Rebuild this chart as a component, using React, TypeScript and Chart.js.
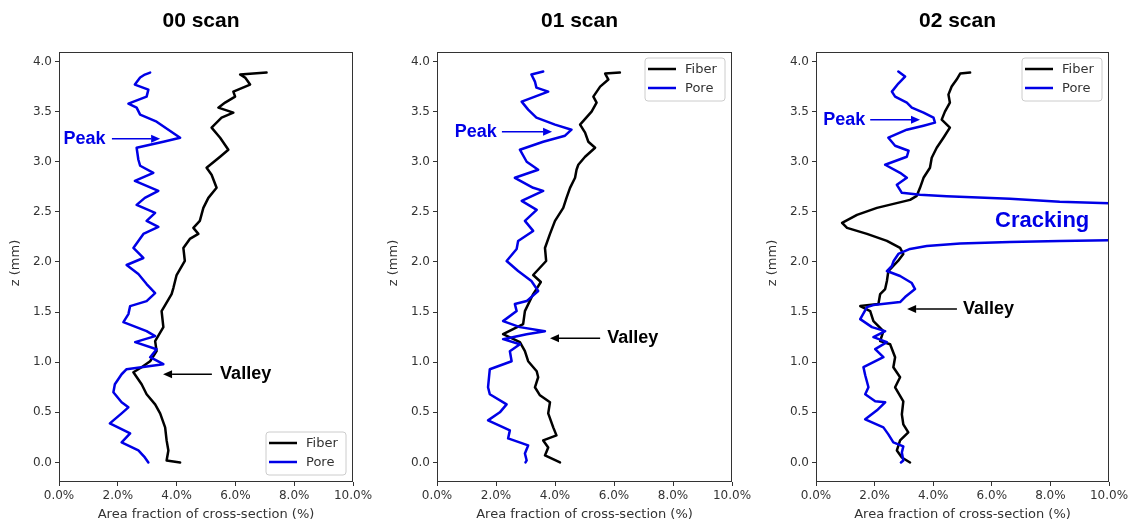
import React, { useEffect, useRef } from "react";
import { Chart, registerables } from "chart.js";
Chart.register(...registerables);

// ---------- data ----------
const xTicks = [0, 2, 4, 6, 8, 10];
const yTicks = [0, 0.5, 1, 1.5, 2, 2.5, 3, 3.5, 4];
const panelTitles = ["00 scan", "01 scan", "02 scan"];
const seriesNames = ["Fiber", "Pore"];
const xAxisTitle = "Area fraction of cross-section (%)";
const yAxisTitle = "z (mm)";

// 00 scan
const scan00FiberZ = [3.89, 3.87, 3.84, 3.77, 3.7, 3.65, 3.59, 3.54, 3.49, 3.44, 3.34, 3.24, 3.12, 3.05, 2.94, 2.87, 2.74, 2.64, 2.54, 2.41, 2.34, 2.28, 2.23, 2.14, 2.01, 1.87, 1.74, 1.68, 1.51, 1.35, 1.21, 1.11, 1.01, 0.95, 0.9, 0.78, 0.68, 0.58, 0.49, 0.35, 0.22, 0.12, 0.02, 0.0];
const scan00FiberPct = [7.06, 6.16, 6.33, 6.5, 5.93, 5.99, 5.65, 5.42, 5.93, 5.53, 5.19, 5.48, 5.76, 5.48, 5.02, 5.19, 5.36, 5.08, 4.91, 4.79, 4.57, 4.74, 4.45, 4.23, 4.28, 4.0, 3.89, 3.83, 3.49, 3.55, 3.27, 3.32, 3.1, 2.81, 2.53, 2.81, 2.98, 3.27, 3.44, 3.61, 3.66, 3.72, 3.66, 4.12];
const scan00PoreZ = [3.89, 3.87, 3.84, 3.77, 3.72, 3.65, 3.58, 3.54, 3.47, 3.4, 3.32, 3.24, 3.2, 3.14, 3.02, 2.96, 2.89, 2.81, 2.71, 2.64, 2.57, 2.49, 2.41, 2.35, 2.28, 2.14, 2.04, 1.97, 1.88, 1.78, 1.69, 1.61, 1.56, 1.48, 1.4, 1.31, 1.26, 1.2, 1.13, 1.05, 0.98, 0.93, 0.88, 0.78, 0.7, 0.6, 0.55, 0.49, 0.39, 0.29, 0.2, 0.12, 0.05, 0.0];
const scan00PorePct = [3.1, 2.92, 2.76, 2.58, 3.04, 2.98, 2.36, 2.64, 2.76, 3.32, 3.72, 4.12, 3.55, 2.64, 2.7, 2.76, 3.21, 2.58, 3.38, 2.92, 2.64, 3.27, 2.98, 3.38, 2.87, 2.53, 2.87, 2.3, 2.7, 2.98, 3.27, 2.98, 2.42, 2.36, 2.19, 2.98, 3.27, 2.59, 3.32, 3.1, 3.55, 2.3, 2.13, 1.9, 1.85, 2.13, 2.36, 2.13, 1.73, 2.42, 2.13, 2.7, 2.92, 3.04];

// 01 scan
const scan01FiberZ = [3.89, 3.88, 3.82, 3.75, 3.65, 3.59, 3.5, 3.37, 3.29, 3.2, 3.14, 3.05, 2.97, 2.92, 2.84, 2.74, 2.64, 2.54, 2.41, 2.28, 2.14, 2.01, 1.87, 1.8, 1.73, 1.68, 1.51, 1.38, 1.28, 1.2, 1.11, 1.01, 0.91, 0.85, 0.75, 0.67, 0.6, 0.49, 0.35, 0.27, 0.22, 0.15, 0.07, 0.0];
const scan01FiberPct = [6.2, 5.7, 5.81, 5.53, 5.3, 5.41, 5.24, 4.85, 5.02, 5.13, 5.36, 5.02, 4.79, 4.73, 4.68, 4.51, 4.39, 4.28, 4.0, 3.83, 3.66, 3.7, 3.26, 3.52, 3.37, 3.26, 2.98, 2.92, 2.24, 2.81, 2.98, 3.09, 3.38, 3.43, 3.32, 3.49, 3.83, 3.77, 3.94, 4.05, 3.6, 3.77, 3.66, 4.17];
const scan01PoreZ = [3.9, 3.87, 3.8, 3.74, 3.7, 3.65, 3.6, 3.52, 3.44, 3.37, 3.32, 3.26, 3.2, 3.12, 3.0, 2.92, 2.84, 2.74, 2.71, 2.61, 2.52, 2.41, 2.31, 2.21, 2.13, 2.01, 1.91, 1.81, 1.71, 1.61, 1.58, 1.51, 1.41, 1.35, 1.31, 1.28, 1.23, 1.18, 1.11, 1.01, 0.93, 0.75, 0.68, 0.58, 0.5, 0.42, 0.32, 0.24, 0.17, 0.09, 0.02, 0.0];
const scan01PorePct = [3.6, 3.2, 3.32, 3.37, 3.77, 3.32, 2.87, 3.09, 3.37, 4.0, 4.56, 4.34, 3.6, 2.81, 3.04, 3.43, 2.64, 3.26, 3.6, 2.87, 3.38, 2.98, 3.26, 2.75, 2.7, 2.36, 2.75, 3.2, 3.43, 3.04, 2.64, 2.7, 2.24, 2.81, 3.66, 3.04, 2.24, 2.81, 2.47, 2.53, 1.79, 1.73, 1.79, 2.36, 2.13, 1.73, 2.47, 2.41, 3.09, 2.98, 3.04, 3.0];

// 02 scan
const scan02FiberZ = [3.89, 3.88, 3.82, 3.75, 3.67, 3.59, 3.5, 3.42, 3.34, 3.24, 3.14, 3.04, 2.94, 2.84, 2.74, 2.66, 2.62, 2.54, 2.47, 2.39, 2.34, 2.28, 2.21, 2.14, 2.08, 2.01, 1.91, 1.81, 1.73, 1.68, 1.58, 1.56, 1.51, 1.41, 1.31, 1.21, 1.18, 1.05, 0.95, 0.85, 0.75, 0.61, 0.48, 0.38, 0.3, 0.22, 0.12, 0.05, 0.0];
const scan02FiberPct = [5.26, 4.92, 4.8, 4.63, 4.52, 4.57, 4.4, 4.29, 4.57, 4.35, 4.12, 3.95, 3.89, 3.67, 3.55, 3.44, 3.21, 2.08, 1.4, 0.89, 1.06, 1.74, 2.42, 2.87, 2.98, 2.8, 2.47, 2.42, 2.36, 2.19, 2.13, 1.51, 1.85, 1.96, 2.3, 2.19, 2.53, 2.7, 2.64, 2.87, 2.7, 2.98, 2.93, 2.98, 3.15, 2.87, 2.76, 2.93, 3.21];
const scan02PoreZ = [3.9, 3.85, 3.78, 3.7, 3.65, 3.59, 3.54, 3.49, 3.44, 3.39, 3.36, 3.32, 3.24, 3.16, 3.11, 3.05, 2.97, 2.89, 2.84, 2.77, 2.69, 2.67, 2.655, 2.63, 2.6, 2.55, 2.4, 2.23, 2.21, 2.2, 2.185, 2.16, 2.13, 2.08, 2.01, 1.96, 1.91, 1.86, 1.79, 1.73, 1.65, 1.6, 1.57, 1.55, 1.43, 1.35, 1.31, 1.25, 1.2, 1.13, 1.05, 0.95, 0.87, 0.75, 0.68, 0.61, 0.6, 0.52, 0.43, 0.35, 0.28, 0.2, 0.16, 0.1, 0.02, 0.0];
const scan02PorePct = [2.81, 3.04, 2.81, 2.59, 2.7, 3.1, 3.27, 3.67, 4.01, 4.06, 3.67, 3.1, 2.47, 2.7, 3.16, 3.1, 2.36, 2.87, 3.1, 2.76, 2.93, 3.55, 4.46, 6.62, 8.32, 14, 40, 14, 8.32, 6.62, 4.92, 3.78, 3.21, 2.81, 2.65, 2.59, 2.42, 2.87, 3.27, 3.38, 3.04, 2.87, 1.96, 1.74, 1.51, 1.91, 2.36, 1.96, 2.42, 2.02, 2.3, 1.62, 1.68, 1.79, 1.68, 2.02, 2.36, 2.08, 1.68, 2.3, 2.47, 2.64, 2.98, 2.93, 2.98, 2.9];

// annotation texts
const peakLabel = "Peak";
const valleyLabel = "Valley";
const crackLabel = "Cracking";

const BLUE = "#0000e6";
const BLACK = "#000000";
const AXIS = "#333333";

type Ann = { kind: "text" | "arrow"; text?: string; x: number; y: number; x2?: number; align?: CanvasTextAlign; color: string; size?: number };

const panelAnnotations: Ann[][] = [
  [
    { kind: "text", text: peakLabel, x: 1.58, y: 3.23, align: "right", color: BLUE },
    { kind: "arrow", x: 1.8, x2: 3.44, y: 3.23, color: BLUE },
    { kind: "text", text: valleyLabel, x: 5.48, y: 0.88, align: "left", color: BLACK },
    { kind: "arrow", x: 5.2, x2: 3.54, y: 0.88, color: BLACK },
  ],
  [
    { kind: "text", text: peakLabel, x: 2.03, y: 3.3, align: "right", color: BLUE },
    { kind: "arrow", x: 2.2, x2: 3.9, y: 3.3, color: BLUE },
    { kind: "text", text: valleyLabel, x: 5.77, y: 1.24, align: "left", color: BLACK },
    { kind: "arrow", x: 5.53, x2: 3.83, y: 1.24, color: BLACK },
  ],
  [
    { kind: "text", text: peakLabel, x: 1.68, y: 3.42, align: "right", color: BLUE },
    { kind: "arrow", x: 1.85, x2: 3.55, y: 3.42, color: BLUE },
    { kind: "text", text: valleyLabel, x: 5.02, y: 1.53, align: "left", color: BLACK },
    { kind: "arrow", x: 4.81, x2: 3.11, y: 1.53, color: BLACK },
    { kind: "text", text: crackLabel, x: 7.72, y: 2.41, align: "center", color: BLUE, size: 22 },
  ],
];

const panelSeries = [
  { fz: scan00FiberZ, fv: scan00FiberPct, pz: scan00PoreZ, pv: scan00PorePct },
  { fz: scan01FiberZ, fv: scan01FiberPct, pz: scan01PoreZ, pv: scan01PorePct },
  { fz: scan02FiberZ, fv: scan02FiberPct, pz: scan02PoreZ, pv: scan02PorePct },
];

const legendAtBottom = [true, false, false];

// layout (padding around each panel's plot box)
const panelPadding = [
  { left: 9, right: 779 },
  { left: 387, right: 400 },
  { left: 766, right: 23 },
];

const W = 1132;
const H = 524;
const TICK_FONT = "'DejaVu Sans', sans-serif";
const BOLD_FONT = "'Liberation Sans', Arial, sans-serif";

function makeDecor(idx: number) {
  return {
    id: "decor" + idx,
    afterDraw(chart: any) {
      const { ctx, chartArea: a, scales } = chart;
      const xs = scales.x;
      const ys = scales.y;
      ctx.save();
      // frame
      ctx.strokeStyle = AXIS;
      ctx.lineWidth = 1;
      ctx.strokeRect(Math.round(a.left) + 0.5, Math.round(a.top) + 0.5, Math.round(a.right - a.left) - 1, Math.round(a.bottom - a.top) - 1);

      // title
      ctx.fillStyle = BLACK;
      ctx.font = `bold 21px ${BOLD_FONT}`;
      ctx.textAlign = "center";
      ctx.textBaseline = "middle";
      ctx.fillText(panelTitles[idx], (a.left + a.right) / 2 - 5, a.top - 31);

      // axis titles
      ctx.fillStyle = AXIS;
      ctx.font = `13px ${TICK_FONT}`;
      ctx.fillText(xAxisTitle, (a.left + a.right) / 2, a.bottom + 33);
      ctx.save();
      ctx.translate(a.left - 43, (a.top + a.bottom) / 2 - 4);
      ctx.rotate(-Math.PI / 2);
      ctx.fillText(yAxisTitle, 0, 0);
      ctx.restore();

      // legend
      const bw = 80, bh = 43;
      const bx = a.right - 7 - bw;
      const by = legendAtBottom[idx] ? a.bottom - 7 - bh : a.top + 6;
      ctx.beginPath();
      const r = 3;
      ctx.moveTo(bx + r, by);
      ctx.arcTo(bx + bw, by, bx + bw, by + bh, r);
      ctx.arcTo(bx + bw, by + bh, bx, by + bh, r);
      ctx.arcTo(bx, by + bh, bx, by, r);
      ctx.arcTo(bx, by, bx + bw, by, r);
      ctx.closePath();
      ctx.fillStyle = "rgba(255,255,255,0.85)";
      ctx.fill();
      ctx.strokeStyle = "#cccccc";
      ctx.lineWidth = 1;
      ctx.stroke();
      const colors = [BLACK, BLUE];
      seriesNames.forEach((name, i) => {
        const yy = by + 11 + i * 19;
        ctx.strokeStyle = colors[i];
        ctx.lineWidth = 2.5;
        ctx.beginPath();
        ctx.moveTo(bx + 3, yy);
        ctx.lineTo(bx + 31, yy);
        ctx.stroke();
        ctx.fillStyle = AXIS;
        ctx.font = `13px ${TICK_FONT}`;
        ctx.textAlign = "left";
        ctx.textBaseline = "middle";
        ctx.fillText(name, bx + 40, yy + 1);
      });

      // annotations
      panelAnnotations[idx].forEach((an) => {
        const px = xs.getPixelForValue(an.x);
        const py = ys.getPixelForValue(an.y);
        if (an.kind === "text") {
          ctx.fillStyle = an.color;
          ctx.font = `bold ${an.size || 18}px ${BOLD_FONT}`;
          ctx.textAlign = an.align || "left";
          ctx.textBaseline = "middle";
          ctx.fillText(an.text, px, py);
        } else {
          const px2 = xs.getPixelForValue(an.x2 as number);
          const dir = Math.sign(px2 - px);
          const hl = 9, hw = 4;
          ctx.strokeStyle = an.color;
          ctx.fillStyle = an.color;
          ctx.lineWidth = 1.5;
          ctx.beginPath();
          ctx.moveTo(px, py);
          ctx.lineTo(px2 - dir * hl, py);
          ctx.stroke();
          ctx.beginPath();
          ctx.moveTo(px2, py);
          ctx.lineTo(px2 - dir * hl, py - hw);
          ctx.lineTo(px2 - dir * hl, py + hw);
          ctx.closePath();
          ctx.fill();
        }
      });
      ctx.restore();
    },
  };
}

function Panel({ idx }: { idx: number }) {
  const ref = useRef<HTMLCanvasElement | null>(null);
  useEffect(() => {
    if (!ref.current) return;
    const s = panelSeries[idx];
    const chart = new Chart(ref.current, {
      type: "scatter",
      data: {
        datasets: [
          {
            label: seriesNames[1],
            data: s.pz.map((z, i) => ({ x: s.pv[i], y: z })),
            showLine: true,
            borderColor: BLUE,
            borderWidth: 2.5,
            pointRadius: 0,
            tension: 0,
            borderJoinStyle: "round",
            borderCapStyle: "round",
            clip: 0,
            order: 0,
          },
          {
            label: seriesNames[0],
            data: s.fz.map((z, i) => ({ x: s.fv[i], y: z })),
            showLine: true,
            borderColor: BLACK,
            borderWidth: 2.5,
            pointRadius: 0,
            tension: 0,
            borderJoinStyle: "round",
            borderCapStyle: "round",
            clip: 0,
            order: 1,
          },
        ],
      } as any,
      options: {
        animation: false,
        responsive: false,
        devicePixelRatio: 1,
        events: [],
        layout: { padding: { left: panelPadding[idx].left, right: panelPadding[idx].right, top: 52, bottom: 0 } },
        plugins: { legend: { display: false }, tooltip: { enabled: false }, title: { display: false } },
        scales: {
          x: {
            type: "linear",
            position: "bottom",
            min: 0,
            max: 10,
            afterBuildTicks: (sc: any) => {
              sc.ticks = xTicks.map((v) => ({ value: v }));
            },
            afterFit: (sc: any) => {
              sc.height = 42;
            },
            ticks: {
              callback: (v: any) => Number(v).toFixed(1) + "%",
              font: { family: TICK_FONT, size: 12 },
              color: AXIS,
              padding: 3,
              maxRotation: 0,
              autoSkip: false,
            },
            grid: { display: true, drawOnChartArea: false, drawTicks: true, tickLength: 4, color: AXIS },
            border: { display: false },
          },
          y: {
            type: "linear",
            position: "left",
            min: -0.195,
            max: 4.095,
            afterBuildTicks: (sc: any) => {
              sc.ticks = yTicks.map((v) => ({ value: v }));
            },
            afterFit: (sc: any) => {
              sc.width = 50;
            },
            ticks: {
              callback: (v: any) => Number(v).toFixed(1),
              font: { family: TICK_FONT, size: 12 },
              color: AXIS,
              padding: 3,
              autoSkip: false,
            },
            grid: { display: true, drawOnChartArea: false, drawTicks: true, tickLength: 4, color: AXIS },
            border: { display: false },
          },
        },
      } as any,
      plugins: [makeDecor(idx)],
    });
    return () => chart.destroy();
  }, [idx]);
  return (
    <canvas
      ref={ref}
      width={W}
      height={H}
      style={{ position: "absolute", left: 0, top: 0, width: W, height: H }}
    />
  );
}

export default function App() {
  return (
    <div style={{ position: "fixed", left: 0, top: 0, width: W, height: H, background: "#ffffff", overflow: "hidden" }}>
      <Panel idx={0} />
      <Panel idx={1} />
      <Panel idx={2} />
    </div>
  );
}
